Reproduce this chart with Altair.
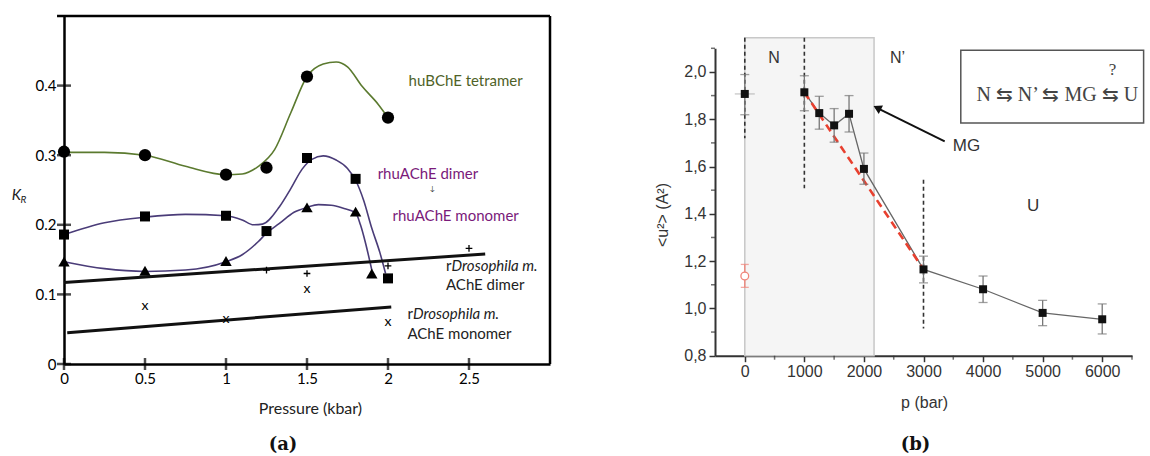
import altair as alt
import pandas as pd

# ================= Panel (a) data =================
tet_p = [0, 0.5, 1.0, 1.25, 1.5, 2.0]
tet_k = [0.305, 0.300, 0.272, 0.282, 0.413, 0.354]
dim_p = [0, 0.5, 1.0, 1.25, 1.5, 1.8, 2.0]
dim_k = [0.186, 0.212, 0.213, 0.191, 0.296, 0.266, 0.123]
mon_p = [0, 0.5, 1.0, 1.5, 1.8, 1.9]
mon_k = [0.147, 0.134, 0.148, 0.225, 0.219, 0.130]

# smooth curves
tet_curve_p = [0, 0.25, 0.5, 0.75, 1.0, 1.1, 1.2, 1.3, 1.4, 1.5, 1.6, 1.68, 1.75, 1.84, 1.94, 2.0]
tet_curve_k = [0.304, 0.304, 0.300, 0.284, 0.272, 0.273, 0.284, 0.308, 0.361, 0.413, 0.431, 0.434, 0.427, 0.399, 0.373, 0.354]
dim_curve_p = [0, 0.25, 0.5, 0.75, 1.0, 1.1, 1.17, 1.225, 1.33, 1.40, 1.47, 1.53, 1.6, 1.68, 1.75, 1.8, 1.85, 1.9, 1.95, 1.985]
dim_curve_k = [0.186, 0.203, 0.211, 0.215, 0.213, 0.207, 0.200, 0.201, 0.226, 0.252, 0.280, 0.294, 0.299, 0.293, 0.281, 0.264, 0.235, 0.195, 0.160, 0.130]
mon_curve_p = [0, 0.25, 0.5, 0.75, 1.0, 1.1, 1.2, 1.25, 1.33, 1.42, 1.5, 1.57, 1.65, 1.72, 1.8, 1.83, 1.86, 1.9]
mon_curve_k = [0.147, 0.137, 0.133, 0.135, 0.147, 0.157, 0.176, 0.188, 0.202, 0.218, 0.225, 0.229, 0.228, 0.224, 0.217, 0.200, 0.175, 0.135]

dros_dim_p = [1.25, 1.5, 2.0, 2.5]
dros_dim_k = [0.135, 0.130, 0.141, 0.166]
dros_mon_p = [0.5, 1.0, 1.5, 2.0]
dros_mon_k = [0.083, 0.065, 0.108, 0.060]
dros_dim_fit_p = [0.0, 2.6]
dros_dim_fit_k = [0.117, 0.158]
dros_mon_fit_p = [0.02, 2.02]
dros_mon_fit_k = [0.045, 0.082]

xa_ticks = [0, 0.5, 1, 1.5, 2, 2.5]
ya_ticks = [0, 0.1, 0.2, 0.3, 0.4]

# ================= Panel (b) data =================
p_bar = [0, 1000, 1250, 1500, 1750, 2000, 3000, 4000, 5000, 6000]
u2 = [1.907, 1.914, 1.826, 1.774, 1.823, 1.590, 1.165, 1.081, 0.981, 0.954]
u2_lo = [1.819, 1.836, 1.758, 1.703, 1.746, 1.525, 1.108, 1.025, 0.927, 0.892]
u2_hi = [1.989, 1.984, 1.897, 1.845, 1.900, 1.657, 1.221, 1.137, 1.034, 1.019]
red_p = [0]
red_u = [1.137]
red_lo = [1.089]
red_hi = [1.186]
fit_p = [1000, 3000]
fit_u = [1.914, 1.165]
xb_ticks = [0, 1000, 2000, 3000, 4000, 5000, 6000]
xb_minor = [500, 1500, 2500, 3500, 4500, 5500, 6500]
yb_ticks = [0.8, 1.0, 1.2, 1.4, 1.6, 1.8, 2.0]
yb_minor = [0.9, 1.1, 1.3, 1.5, 1.7, 1.9, 2.1]

FA = "Lato"
FB = "Liberation Sans"

# ---------------- scales / axes ----------------
XA = alt.Scale(domain=[0, 3], range=[64, 550], nice=False, zero=False)
YA = alt.Scale(domain=[0, 0.5], range=[364, 16], nice=False, zero=False)
ax_xa = alt.Axis(orient="bottom", offset=-92, values=xa_ticks, format="~g", ticks=False,
                 labelPadding=7, labelFont=FA, labelFontSize=15, labelColor="black",
                 domainColor="black", domainWidth=2.5, title=None, grid=False,
                 labelFlush=False, labelOverlap=False)
ax_ya = alt.Axis(orient="left", offset=-64, values=ya_ticks, format="~g", ticks=False,
                 labelPadding=8, labelFont=FA, labelFontSize=15, labelColor="black",
                 domainColor="black", domainWidth=2.5, title=None, grid=False,
                 labelFlush=False, labelOverlap=False)


def xa(f="x"):
    return alt.X(f"{f}:Q", scale=XA, axis=ax_xa)


def ya(f="y"):
    return alt.Y(f"{f}:Q", scale=YA, axis=ax_ya)


def df(xs, ys):
    return pd.DataFrame({"x": xs, "y": ys})


GREEN = "#5b7a2f"
PURP = "#4a3c78"

a_layers = []
# frame top/right
a_layers.append(alt.Chart(pd.DataFrame({"x": [-0.043], "x2": [3.0], "y": [0.5]})).mark_rule(
    color="black", strokeWidth=2.5).encode(x=xa(), x2="x2:Q", y=ya()))
a_layers.append(alt.Chart(pd.DataFrame({"x": [3.0], "y": [0.0], "y2": [0.5]})).mark_rule(
    color="black", strokeWidth=2.5).encode(x=xa(), y=ya(), y2="y2:Q"))
# crossing ticks
a_layers.append(alt.Chart(pd.DataFrame({"x": xa_ticks, "y": [0] * len(xa_ticks)})).mark_tick(
    orient="vertical", size=12, thickness=2.5, color="black").encode(x=xa(), y=ya()))
a_layers.append(alt.Chart(pd.DataFrame({"x": [0] * len(ya_ticks), "y": ya_ticks})).mark_tick(
    orient="horizontal", size=14, thickness=2.5, color="black").encode(x=xa(), y=ya()))
# curves
a_layers.append(alt.Chart(df(tet_curve_p, tet_curve_k)).mark_line(
    color=GREEN, strokeWidth=1.6, interpolate="monotone").encode(x=xa(), y=ya()))
a_layers.append(alt.Chart(df(dim_curve_p, dim_curve_k)).mark_line(
    color=PURP, strokeWidth=1.6, interpolate="monotone").encode(x=xa(), y=ya()))
a_layers.append(alt.Chart(df(mon_curve_p, mon_curve_k)).mark_line(
    color=PURP, strokeWidth=1.6, interpolate="monotone").encode(x=xa(), y=ya()))
# Drosophila fits
a_layers.append(alt.Chart(df(dros_dim_fit_p, dros_dim_fit_k)).mark_line(
    color="#111", strokeWidth=3).encode(x=xa(), y=ya()))
a_layers.append(alt.Chart(df(dros_mon_fit_p, dros_mon_fit_k)).mark_line(
    color="#111", strokeWidth=3).encode(x=xa(), y=ya()))
# markers
a_layers.append(alt.Chart(df(tet_p, tet_k)).mark_point(
    shape="circle", filled=True, size=150, color="black", opacity=1).encode(x=xa(), y=ya()))
a_layers.append(alt.Chart(df(dim_p, dim_k)).mark_point(
    shape="square", filled=True, size=100, color="black", opacity=1).encode(x=xa(), y=ya()))
a_layers.append(alt.Chart(df(mon_p, mon_k)).mark_point(
    shape="triangle-up", filled=True, size=130, color="black", opacity=1).encode(x=xa(), y=ya()))
a_layers.append(alt.Chart(df(dros_dim_p, dros_dim_k)).mark_point(
    shape="M-1,0H1M0,-1V1", filled=False, stroke="black", strokeWidth=1.3, size=45,
    opacity=1).encode(x=xa(), y=ya()))
a_layers.append(alt.Chart(df(dros_mon_p, dros_mon_k)).mark_text(
    text="x", font=FA, fontSize=14, color="black", baseline="middle").encode(x=xa(), y=ya()))

# labels panel (a)
def a_text(x, y, t, color="#222", size=15, style="normal", weight="normal", align="left", font=FA):
    return alt.Chart(pd.DataFrame({"x": [x], "y": [y], "t": [t]})).mark_text(
        font=font, fontSize=size, fontStyle=style, fontWeight=weight, color=color,
        align=align, baseline="middle").encode(x=xa(), y=ya(), text="t:N")

a_layers += [
    a_text(2.127, 0.406, "huBChE tetramer", color="#4f6228"),
    a_text(1.936, 0.273, "rhuAChE dimer", color="#7a1a7a"),
    a_text(2.274, 0.252, "↓", color="#333", size=7, align="center"),
    a_text(2.028, 0.212, "rhuAChE monomer", color="#7a1a7a"),
    a_text(2.358, 0.141, "r", color="#222"),
    a_text(2.392, 0.141, "Drosophila m.", color="#222", style="italic"),
    a_text(2.358, 0.113, "AChE dimer", color="#222"),
    a_text(2.120, 0.072, "r", color="#222"),
    a_text(2.154, 0.072, "Drosophila m.", color="#222", style="italic"),
    a_text(2.120, 0.043, "AChE monomer", color="#222"),
    a_text(-0.294, 0.243, "K", color="#222", size=15, style="italic", align="center"),
    a_text(-0.250, 0.236, "R", color="#222", size=10, style="italic", align="center"),
    a_text(1.521, -0.0647, "Pressure (kbar)", color="#222", size=16, align="center"),
    a_text(1.352, -0.1165, "(a)", color="#111", size=18, weight="bold", align="center",
           font="DejaVu Serif"),
]

panel_a = alt.layer(*a_layers)

# ================= Panel (b) =================
XB = alt.Scale(domain=[-500, 6500], range=[715, 1132], nice=False, zero=False)
YB = alt.Scale(domain=[0.8, 2.1], range=[355.7, 48.3], nice=False, zero=False)
GR = "#333333"
ax_xb = alt.Axis(orient="bottom", offset=-100.3, values=xb_ticks, format="d", tickSize=6,
                 tickWidth=1.5, tickColor=GR, labelPadding=2, labelFont=FB, labelFontSize=16,
                 labelColor=GR, domainColor=GR, domainWidth=2, title=None, grid=False,
                 labelFlush=False, labelOverlap=False)
ax_yb = alt.Axis(orient="left", offset=-715, values=yb_ticks, tickSize=6, tickWidth=1.5,
                 tickColor=GR, labelPadding=3, labelFont=FB, labelFontSize=16, labelColor=GR,
                 labelExpr="replace(format(datum.value, '.1f'), '.', ',')",
                 domainColor=GR, domainWidth=2, title=None, grid=False,
                 labelFlush=False, labelOverlap=False)


def xb(f="x"):
    return alt.X(f"{f}:Q", scale=XB, axis=ax_xb)


def yb(f="y"):
    return alt.Y(f"{f}:Q", scale=YB, axis=ax_yb)


b_layers = []
# shaded N region
b_layers.append(alt.Chart(pd.DataFrame({"x": [0], "x2": [2170], "y": [0.8], "y2": [2.145]})).mark_rect(
    fill="#f5f5f5", stroke="#c8c8c8", strokeWidth=1.5).encode(x=xb(), x2="x2:Q", y=yb(), y2="y2:Q"))
# minor ticks
b_layers.append(alt.Chart(pd.DataFrame({"x": xb_minor, "y": [0.8] * len(xb_minor)})).mark_tick(
    orient="vertical", size=4, thickness=1.5, color=GR, yOffset=2).encode(x=xb(), y=yb()))
b_layers.append(alt.Chart(pd.DataFrame({"x": [-500] * len(yb_minor), "y": yb_minor})).mark_tick(
    orient="horizontal", size=4, thickness=1.5, color=GR, xOffset=-2).encode(x=xb(), y=yb()))
# dashed vertical lines
b_layers.append(alt.Chart(pd.DataFrame({"x": [0, 1000, 3000], "y": [2.145, 2.145, 1.544],
                                        "y2": [1.72, 1.508, 0.915]})).mark_rule(
    color="#333", strokeWidth=1.6, strokeDash=[4, 3]).encode(x=xb(), y=yb(), y2="y2:Q"))
# grey connecting line (1000 .. 6000)
b_layers.append(alt.Chart(df(p_bar[1:], u2[1:])).mark_line(
    color="#666", strokeWidth=1.3).encode(x=xb(), y=yb()))
# red dashed fit
b_layers.append(alt.Chart(df(fit_p, fit_u)).mark_line(
    color="#e8402f", strokeWidth=2.6, strokeDash=[8, 5]).encode(x=xb(), y=yb()))
# error bars
eb = pd.DataFrame({"x": p_bar, "y": u2_lo, "y2": u2_hi})
b_layers.append(alt.Chart(eb).mark_rule(color="#777", strokeWidth=1.3).encode(x=xb(), y=yb(), y2="y2:Q"))
b_layers.append(alt.Chart(df(p_bar, u2_lo)).mark_tick(orient="horizontal", size=9, thickness=1.3,
                                                       color="#777").encode(x=xb(), y=yb()))
b_layers.append(alt.Chart(df(p_bar, u2_hi)).mark_tick(orient="horizontal", size=9, thickness=1.3,
                                                       color="#777").encode(x=xb(), y=yb()))
b_layers.append(alt.Chart(df(p_bar[:1], u2[:1])).mark_tick(orient="horizontal", size=20, thickness=1,
                                                           color="#999").encode(x=xb(), y=yb()))
RED = "#f0857a"
b_layers.append(alt.Chart(pd.DataFrame({"x": red_p, "y": red_lo, "y2": red_hi})).mark_rule(
    color=RED, strokeWidth=1.3).encode(x=xb(), y=yb(), y2="y2:Q"))
b_layers.append(alt.Chart(df(red_p, red_lo)).mark_tick(orient="horizontal", size=8, thickness=1.3,
                                                       color=RED).encode(x=xb(), y=yb()))
b_layers.append(alt.Chart(df(red_p, red_hi)).mark_tick(orient="horizontal", size=8, thickness=1.3,
                                                       color=RED).encode(x=xb(), y=yb()))
b_layers.append(alt.Chart(df(red_p, red_u)).mark_point(shape="circle", filled=True, fill="white",
                                                       stroke=RED, strokeWidth=1.3, size=60,
                                                       opacity=1).encode(x=xb(), y=yb()))
# data squares
b_layers.append(alt.Chart(df(p_bar, u2)).mark_point(shape="square", filled=True, size=64,
                                                    color="#111", opacity=1).encode(x=xb(), y=yb()))
# MG arrow
b_layers.append(alt.Chart(pd.DataFrame({"x": [3356], "y": [1.706], "x2": [2200], "y2": [1.850]})).mark_rule(
    color="#111", strokeWidth=2).encode(x=xb(), y=yb(), x2="x2:Q", y2="y2:Q"))
b_layers.append(alt.Chart(df([2223], [1.848])).mark_point(shape="triangle-left", filled=True, size=90,
                                                          angle=26.5, color="#111", opacity=1).encode(
    x=xb(), y=yb()))
# scheme box
b_layers.append(alt.Chart(pd.DataFrame({"x": [3626], "x2": [6695], "y": [1.784], "y2": [2.092]})).mark_rect(
    fill="white", stroke="#555", strokeWidth=1.5).encode(x=xb(), x2="x2:Q", y=yb(), y2="y2:Q"))


def b_text(x, y, t, size=16, font=FB, color=GR, weight="normal", align="center", angle=0):
    return alt.Chart(pd.DataFrame({"x": [x], "y": [y], "t": [t]})).mark_text(
        font=font, fontSize=size, fontWeight=weight, color=color, align=align,
        baseline="middle", angle=angle).encode(x=xb(), y=yb(), text="t:N")


b_layers += [
    b_text(5245, 1.901, "N ⇆ N’ ⇆ MG ⇆ U", size=20, font="Liberation Serif", color="#444"),
    b_text(6172, 2.007, "?", size=17, font="Liberation Serif", color="#444"),
    b_text(489, 2.059, "N", size=16),
    b_text(2563, 2.059, "N’", size=16),
    b_text(3722, 1.685, "MG", size=17),
    b_text(4840, 1.431, "U", size=17),
    b_text(3019, 0.600, "p (bar)", size=16),
    b_text(-1366, 1.395, "<u²> (A²)", size=16, angle=270),
    b_text(2867, 0.422, "(b)", size=18, font="DejaVu Serif", color="#111", weight="bold"),
]

panel_b = alt.layer(*b_layers)

chart = alt.layer(panel_a, panel_b).resolve_scale(x="independent", y="independent").properties(
    width=1150, height=456, autosize=alt.AutoSizeParams(type="none"), padding=0,
    background="white").configure_view(stroke=None)

chart.save("out.html", embed_options={"renderer": "svg", "actions": False})
